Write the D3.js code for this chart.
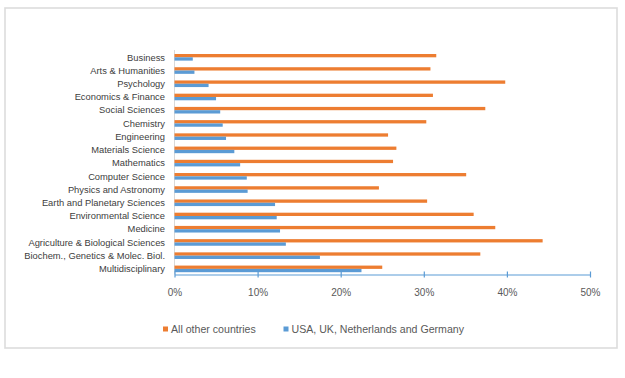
<!DOCTYPE html>
<html><head><meta charset="utf-8">
<script src="https://cdn.jsdelivr.net/npm/d3@7"></script>
<style>body{margin:0;background:#fff;}svg{display:block;font-family:"Liberation Sans",Arial,sans-serif;}</style>
</head><body>
<svg id="c" width="625" height="378"></svg>
<script>
const categories = ["Business","Arts & Humanities","Psychology","Economics & Finance","Social Sciences","Chemistry","Engineering","Materials Science","Mathematics","Computer Science","Physics and Astronomy","Earth and Planetary Sciences","Environmental Science","Medicine","Agriculture & Biological Sciences","Biochem., Genetics & Molec. Biol.","Multidisciplinary"];
const otherCountries = [31.5,30.8,39.8,31.1,37.4,30.3,25.7,26.7,26.3,35.1,24.6,30.4,36.0,38.6,44.3,36.8,25.0];
const usaUkNlDe = [2.2,2.4,4.1,5.0,5.5,5.8,6.2,7.2,7.9,8.7,8.8,12.1,12.3,12.7,13.4,17.5,22.5];
const seriesNames = ["All other countries","USA, UK, Netherlands and Germany"];
const xTicks = [0,10,20,30,40,50];
const colors = ["#ED7D31","#5B9BD5"];

const svg = d3.select("#c");
svg.append("rect").attr("x",5).attr("y",8).attr("width",612).attr("height",340)
  .attr("fill","#fff").attr("stroke","#dcdcdc").attr("stroke-width",1.6);

const x = d3.scaleLinear().domain([0,50]).range([174.5,590]);
const y = d3.scaleBand().domain(categories).range([50.7,275.5]).paddingInner(0.5).paddingOuter(0.25);
const sub = d3.scaleBand().domain([0,1]).range([0,y.bandwidth()]);

svg.append("line").attr("x1",174.5).attr("x2",174.5).attr("y1",50).attr("y2",274.5)
  .attr("stroke","#d9d9d9").attr("stroke-width",1);

const series = [otherCountries, usaUkNlDe];
series.forEach((vals,si)=>{
  svg.append("g").selectAll("rect").data(vals).join("rect")
    .attr("x",x(0)).attr("y",(d,i)=>y(categories[i])+sub(si))
    .attr("width",d=>x(d)-x(0)).attr("height",sub.bandwidth())
    .attr("fill",colors[si]);
});

svg.append("g").selectAll("text").data(categories).join("text")
  .attr("x",165).attr("y",d=>y(d)+y.bandwidth()/2).attr("dy","0.35em")
  .attr("text-anchor","end").attr("font-size",9.35).attr("fill","#404040")
  .text(d=>d);

const xAxis = d3.axisBottom(x).tickValues(xTicks).tickFormat(d=>d+"%").tickSize(0).tickPadding(14);
const gx = svg.append("g").attr("transform","translate(0,274.5)").call(xAxis);
gx.select(".domain").attr("stroke","#5B9BD5").attr("stroke-width",1.2);
gx.selectAll(".tick line").remove();
gx.selectAll(".tick").append("line").attr("y1",-3).attr("y2",3).attr("stroke","#5B9BD5").attr("stroke-width",1.2);
gx.selectAll("text").attr("font-size",10).attr("fill","#595959").attr("font-family","Liberation Sans, Arial, sans-serif");

const legX = [163,283.5];
seriesNames.forEach((n,i)=>{
  const g = svg.append("g").attr("transform",`translate(${legX[i]},329)`);
  g.append("rect").attr("x",0).attr("y",-2.5).attr("width",5).attr("height",5).attr("fill",colors[i]);
  g.append("text").attr("x",8).attr("y",0).attr("dy","0.35em").attr("font-size",10.6).attr("fill","#595959").text(n);
});
</script>
</body></html>
